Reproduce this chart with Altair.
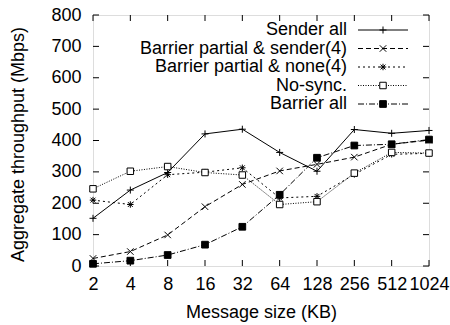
import altair as alt
import pandas as pd

# ---------------- data ----------------
sizes = ["2", "4", "8", "16", "32", "64", "128", "256", "512", "1024"]
series_names = [
    "Sender all",
    "Barrier partial & sender(4)",
    "Barrier partial & none(4)",
    "No-sync.",
    "Barrier all",
]
sender_all = [152, 242, 298, 421, 436, 362, 302, 435, 423, 432]
bp_sender = [24, 46, 99, 189, 260, 303, 324, 347, 388, 401]
bp_none = [210, 196, 291, 299, 313, 217, 222, 292, 356, 359]
no_sync = [246, 302, 317, 298, 290, 196, 205, 296, 362, 360]
barrier_all = [7, 17, 35, 68, 125, 227, 345, 384, 388, 403]
y_ticks = [0, 100, 200, 300, 400, 500, 600, 700, 800]

series_values = [sender_all, bp_sender, bp_none, no_sync, barrier_all]

# ---------------- style ----------------
W, H = 336, 251
FONT = "Liberation Sans"
FS = 18
TICK = 6

PLUS = "M-1,0L1,0M0,-1L0,1"
XSHAPE = "M-1,-1L1,1M-1,1L1,-1"
STAR = "M-1,0L1,0M0,-1L0,1M-0.75,-0.75L0.75,0.75M-0.75,0.75L0.75,-0.75"

styles = [
    dict(dash=None, shape=PLUS, fill="transparent", size=49),
    dict(dash=[5, 3], shape=XSHAPE, fill="transparent", size=42),
    dict(dash=[2, 3], shape=STAR, fill="transparent", size=42),
    dict(dash=[1, 1.5], shape="square", fill="white", size=42),
    dict(dash=[6, 2, 1, 2], shape="square", fill="black", size=45),
]

x_scale = alt.Scale(type="point", padding=0)
y_scale = alt.Scale(domain=[0, 800], nice=False, zero=True)

x_axis = alt.Axis(
    title="Message size (KB)", ticks=False, domain=False, grid=False,
    labelFontSize=FS, labelPadding=9, labelAngle=0, labelColor="black",
    titleFontSize=FS, titleFontWeight="normal", titleColor="black",
    titleY=46, titleBaseline="middle",
)
y_axis = alt.Axis(
    title="Aggregate throughput (Mbps)", ticks=False, domain=False, grid=False,
    values=y_ticks, labelFontSize=FS, labelPadding=12, labelColor="black",
    titleFontSize=FS, titleFontWeight="normal", titleColor="black",
    titleX=-75, titleY=129, titleBaseline="middle", titleAlign="center",
)

X = alt.X("size:O", sort=sizes, scale=x_scale, axis=x_axis)
Y = alt.Y("value:Q", scale=y_scale, axis=y_axis)

layers = []

# inward tick marks (gnuplot style)
xt = pd.DataFrame({"size": sizes})
yt = pd.DataFrame({"value": y_ticks})
tick_props = dict(color="black", strokeWidth=1)
layers.append(alt.Chart(xt).mark_rule(**tick_props).encode(
    x=X, y=alt.value(H), y2=alt.value(H - TICK)))
layers.append(alt.Chart(xt).mark_rule(**tick_props).encode(
    x=X, y=alt.value(0), y2=alt.value(TICK)))
layers.append(alt.Chart(yt).mark_rule(**tick_props).encode(
    y=Y, x=alt.value(0), x2=alt.value(TICK)))
layers.append(alt.Chart(yt).mark_rule(**tick_props).encode(
    y=Y, x=alt.value(W - TICK), x2=alt.value(W)))

# series
for name, vals, st in zip(series_names, series_values, styles):
    df = pd.DataFrame({"size": sizes, "value": vals, "series": name})
    line_kw = dict(color="black", strokeWidth=1)
    if st["dash"]:
        line_kw["strokeDash"] = st["dash"]
    layers.append(alt.Chart(df).mark_line(**line_kw).encode(x=X, y=Y))
    layers.append(alt.Chart(df).mark_point(
        shape=st["shape"], size=st["size"], stroke="black", strokeWidth=1,
        fill=st["fill"], fillOpacity=1, opacity=1, filled=False,
    ).encode(x=X, y=Y))

# legend (inside top-right, gnuplot style)
LEG_TEXT_X = 254
LEG_LINE_X1, LEG_LINE_X2 = 265, 315
LEG_Y0, LEG_DY = 15, 18.5
for i, (name, st) in enumerate(zip(series_names, styles)):
    ly = LEG_Y0 + LEG_DY * i
    ldf = pd.DataFrame({"label": [name]})
    layers.append(alt.Chart(ldf).mark_text(
        align="right", baseline="middle", font=FONT, fontSize=FS, color="black"
    ).encode(text="label:N", x=alt.value(LEG_TEXT_X), y=alt.value(ly)))
    line_kw = dict(color="black", strokeWidth=1)
    if st["dash"]:
        line_kw["strokeDash"] = st["dash"]
    layers.append(alt.Chart(ldf).mark_rule(**line_kw).encode(
        x=alt.value(LEG_LINE_X1), x2=alt.value(LEG_LINE_X2), y=alt.value(ly)))
    layers.append(alt.Chart(ldf).mark_point(
        shape=st["shape"], size=st["size"], stroke="black", strokeWidth=1,
        fill=st["fill"], fillOpacity=1, opacity=1, filled=False,
    ).encode(x=alt.value((LEG_LINE_X1 + LEG_LINE_X2) / 2), y=alt.value(ly)))

chart = alt.layer(*layers).properties(
    width=W, height=H,
    autosize=alt.AutoSizeParams(type="none"),
    padding={"left": 93, "top": 15, "right": 21, "bottom": 59},
    background="white",
).configure_view(
    stroke="black", strokeWidth=1
).configure(
    font=FONT
)

chart.save("out.html", embed_options={"renderer": "svg", "actions": False})
